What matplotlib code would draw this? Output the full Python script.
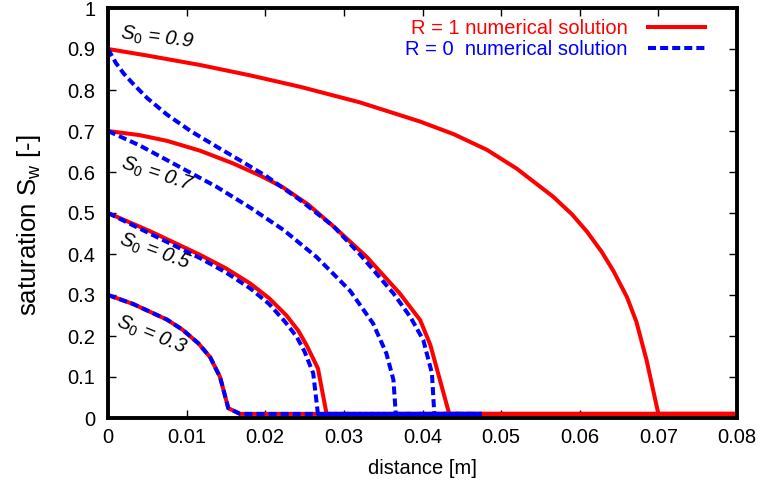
import matplotlib
matplotlib.use("Agg")
import matplotlib.pyplot as plt

plt.rcParams['font.family'] = ['Liberation Sans', 'DejaVu Sans']
plt.rcParams['mathtext.fontset'] = 'custom'
plt.rcParams['mathtext.rm'] = 'Liberation Sans'
plt.rcParams['mathtext.it'] = 'Liberation Sans:italic'

# R = 1 (red, solid)
x_r09 = [0, 0.005, 0.0117, 0.018, 0.0244, 0.032, 0.0397, 0.044, 0.0482, 0.052, 0.0566, 0.0590,
         0.0609, 0.0628, 0.0643, 0.0660, 0.0672, 0.0685, 0.0700, 0.08]
y_r09 = [0.90, 0.884, 0.861, 0.836, 0.808, 0.770, 0.723, 0.692, 0.654, 0.608, 0.540, 0.497,
         0.455, 0.405, 0.358, 0.295, 0.235, 0.141, 0.01, 0.01]
x_r07 = [0, 0.004, 0.0075, 0.0117, 0.0159, 0.0195, 0.0223, 0.0255, 0.0287, 0.0329, 0.0371, 0.0397,
         0.0410, 0.0434, 0.08]
y_r07 = [0.70, 0.690, 0.676, 0.652, 0.621, 0.590, 0.562, 0.520, 0.467, 0.393, 0.304, 0.239,
         0.178, 0.01, 0.01]
x_r05 = [0, 0.0053, 0.0117, 0.0150, 0.0181, 0.0205, 0.0227, 0.0242, 0.0253, 0.0267, 0.0278, 0.08]
y_r05 = [0.50, 0.456, 0.398, 0.365, 0.328, 0.292, 0.250, 0.213, 0.176, 0.121, 0.01, 0.01]
x_r03 = [0, 0.0032, 0.0075, 0.0095, 0.0115, 0.0130, 0.01425, 0.0153, 0.0168, 0.08]
y_r03 = [0.30, 0.278, 0.240, 0.215, 0.182, 0.148, 0.10, 0.024, 0.01, 0.01]

# R = 0 (blue, dashed)
x_b09 = [0, 0.001, 0.002, 0.0032, 0.005, 0.0075, 0.0105, 0.0138, 0.0170, 0.0202, 0.0244, 0.0287,
         0.032, 0.0363, 0.0385, 0.0401, 0.0412, 0.0415, 0.0475]
y_b09 = [0.90, 0.866, 0.840, 0.815, 0.780, 0.740, 0.700, 0.662, 0.626, 0.589, 0.532, 0.467,
         0.400, 0.304, 0.245, 0.19, 0.109, 0.01, 0.01]
x_b07 = [0, 0.004, 0.0075, 0.0138, 0.0181, 0.0223, 0.0265, 0.0290, 0.0308, 0.0337, 0.0354, 0.0363,
         0.0366, 0.0475]
y_b07 = [0.70, 0.665, 0.629, 0.564, 0.513, 0.459, 0.393, 0.345, 0.310, 0.231, 0.158, 0.093,
         0.01, 0.01]
x_b05 = [0, 0.0053, 0.0117, 0.0150, 0.0181, 0.0205, 0.0225, 0.0240, 0.0250, 0.0261, 0.0267, 0.0475]
y_b05 = [0.50, 0.450, 0.390, 0.355, 0.316, 0.278, 0.235, 0.198, 0.162, 0.109, 0.01, 0.01]
x_b03 = [0, 0.0032, 0.0075, 0.0095, 0.0115, 0.0130, 0.01425, 0.0153, 0.0168, 0.0475]
y_b03 = [0.30, 0.278, 0.240, 0.215, 0.182, 0.148, 0.10, 0.024, 0.01, 0.01]

labels = ["0.9", "0.7", "0.5", "0.3"]
label_x = [0.0062, 0.0062, 0.0060, 0.0056]
label_y = [0.926, 0.593, 0.406, 0.202]
label_rot = [-7, -18, -20, -22]

red = "#ff0000"
blue = "#0000ff"
fs = 14.5

fig = plt.figure(figsize=(7.6, 4.9), dpi=100)
ax = fig.add_axes([108/760, 72/490, 629/760, 410/490])

reds = [(x_r09, y_r09), (x_r07, y_r07), (x_r05, y_r05), (x_r03, y_r03)]
blues = [(x_b09, y_b09), (x_b07, y_b07), (x_b05, y_b05), (x_b03, y_b03)]
for i, (xx, yy) in enumerate(reds):
    ax.plot(xx, yy, color=red, lw=2.9,
            label="R = 1 numerical solution" if i == 0 else None)
for i, (xx, yy) in enumerate(blues):
    ax.plot(xx, yy, color=blue, lw=2.9, dashes=(2.0, 1.0),
            label="R = 0  numerical solution" if i == 0 else None)

for s, lx, ly, r in zip(labels, label_x, label_y, label_rot):
    ax.text(lx, ly, r"$\mathit{S_0}$ = " + s, fontsize=fs, style='italic',
            rotation=r, rotation_mode='anchor', ha='center', va='center')

ax.set_xlim(0, 0.08)
ax.set_ylim(0, 1)
ax.set_xticks([0, 0.01, 0.02, 0.03, 0.04, 0.05, 0.06, 0.07, 0.08])
ax.set_xticklabels(["0", "0.01", "0.02", "0.03", "0.04", "0.05", "0.06", "0.07", "0.08"])
ax.set_yticks([0, 0.1, 0.2, 0.3, 0.4, 0.5, 0.6, 0.7, 0.8, 0.9, 1])
ax.set_yticklabels(["0", "0.1", "0.2", "0.3", "0.4", "0.5", "0.6", "0.7", "0.8", "0.9", "1"])
ax.tick_params(direction='in', top=True, right=True, length=6, width=1,
               labelsize=fs)
ax.tick_params(axis='x', pad=7)
ax.tick_params(axis='y', pad=9)
for sp in ax.spines.values():
    sp.set_linewidth(2.8)

ax.set_xlabel("distance [m]", fontsize=fs)
ax.set_ylabel(r"saturation $\mathrm{S_w}$ [-]", fontsize=18.5)
ax.xaxis.set_label_coords(0.5, -(459 - 418) / 410)
ax.yaxis.set_label_coords(-(108 - 43) / 629, (418 - 225) / 410)

ax.legend(loc='upper right', bbox_to_anchor=(0.949, 0.974), frameon=False,
          markerfirst=False, labelcolor='linecolor', fontsize=fs,
          handlelength=2.85, handletextpad=1.0, labelspacing=0.1,
          borderpad=0, borderaxespad=0)

fig.savefig("out.png", dpi=100)
